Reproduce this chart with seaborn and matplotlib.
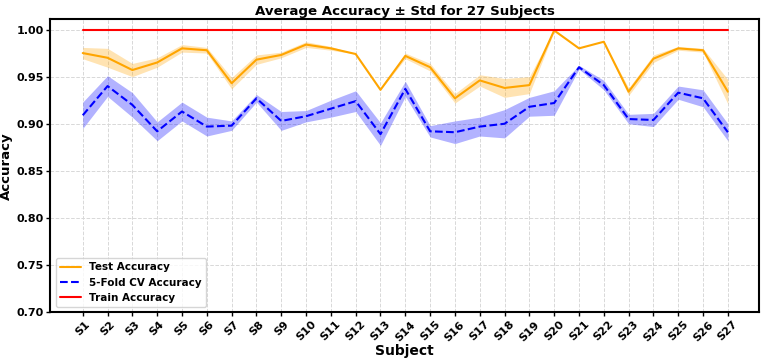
import numpy as np
import pandas as pd
import matplotlib
matplotlib.use("Agg")
import matplotlib.pyplot as plt
import seaborn as sns

subjects = [f"S{i}" for i in range(1, 28)]

test_mean = [0.975, 0.970, 0.957, 0.965, 0.980, 0.978, 0.943, 0.968, 0.973, 0.984,
             0.980, 0.974, 0.936, 0.972, 0.960, 0.927, 0.946, 0.938, 0.941, 0.999,
             0.980, 0.987, 0.934, 0.969, 0.980, 0.978, 0.934]
test_std = [0.006, 0.010, 0.007, 0.005, 0.004, 0.003, 0.006, 0.005, 0.003, 0.003,
            0.002, 0.000, 0.000, 0.003, 0.004, 0.005, 0.006, 0.010, 0.009, 0.001,
            0.000, 0.000, 0.004, 0.004, 0.002, 0.002, 0.013]

cv_mean = [0.909, 0.940, 0.920, 0.892, 0.913, 0.897, 0.898, 0.927, 0.903, 0.908,
           0.916, 0.924, 0.889, 0.937, 0.892, 0.891, 0.897, 0.900, 0.918, 0.922,
           0.960, 0.941, 0.905, 0.904, 0.933, 0.927, 0.891]
cv_std = [0.014, 0.011, 0.013, 0.010, 0.010, 0.010, 0.005, 0.004, 0.010, 0.006,
          0.009, 0.011, 0.012, 0.008, 0.006, 0.012, 0.010, 0.015, 0.010, 0.013,
          0.002, 0.005, 0.005, 0.007, 0.007, 0.009, 0.009]

train_mean = [1.0] * 27

sns.set_style("white")
plt.rcParams['font.family'] = ['DejaVu Sans']
plt.rcParams['font.weight'] = 'bold'
plt.rcParams['text.color'] = 'black'
plt.rcParams['axes.labelcolor'] = 'black'
plt.rcParams['xtick.color'] = 'black'
plt.rcParams['ytick.color'] = 'black'

df = pd.DataFrame({
    'Subject': subjects,
    'test': test_mean,
    'cv': cv_mean,
    'train': train_mean,
})
x = np.arange(len(subjects))
df['x'] = x

fig, ax = plt.subplots(figsize=(7.65, 3.61), dpi=100)

sns.lineplot(data=df, x='x', y='test', ax=ax, color='orange', linewidth=1.5,
             label='Test Accuracy')
ax.fill_between(x, np.array(test_mean) - np.array(test_std),
                np.array(test_mean) + np.array(test_std), color='orange', alpha=0.3, lw=0)

sns.lineplot(data=df, x='x', y='cv', ax=ax, color='blue', linewidth=1.5,
             linestyle='--', label='5-Fold CV Accuracy')
ax.fill_between(x, np.array(cv_mean) - np.array(cv_std),
                np.array(cv_mean) + np.array(cv_std), color='blue', alpha=0.3, lw=0)

sns.lineplot(data=df, x='x', y='train', ax=ax, color='red', linewidth=1.5,
             label='Train Accuracy')

ax.set_xticks(x)
ax.set_xticklabels(subjects, rotation=45, fontsize=8, fontweight='bold')
ax.set_xlim(-1.3, 27.25)
ax.set_ylim(0.70, 1.011)
ax.set_yticks([0.70, 0.75, 0.80, 0.85, 0.90, 0.95, 1.00])
ax.set_yticklabels([f"{v:.2f}" for v in ax.get_yticks()], fontsize=8, fontweight='bold')

ax.set_title('Average Accuracy ± Std for 27 Subjects', fontsize=9.6, fontweight='bold', pad=3)
ax.set_xlabel('Subject', fontsize=10, fontweight='bold', labelpad=1)
ax.set_ylabel('Accuracy', fontsize=9.5, fontweight='bold', labelpad=2)

ax.grid(True, linestyle='--', color='#d8d8d8', linewidth=0.7)
for s in ax.spines.values():
    s.set_color('black')
    s.set_linewidth(1.5)
ax.tick_params(axis='both', length=3, width=1, color='black', left=True, bottom=True, pad=2)

leg = ax.legend(loc='lower left', prop={'weight': 'bold', 'size': 7.5})

plt.subplots_adjust(left=0.066, right=0.992, top=0.947, bottom=0.135)
plt.savefig('out.png', dpi=100)
